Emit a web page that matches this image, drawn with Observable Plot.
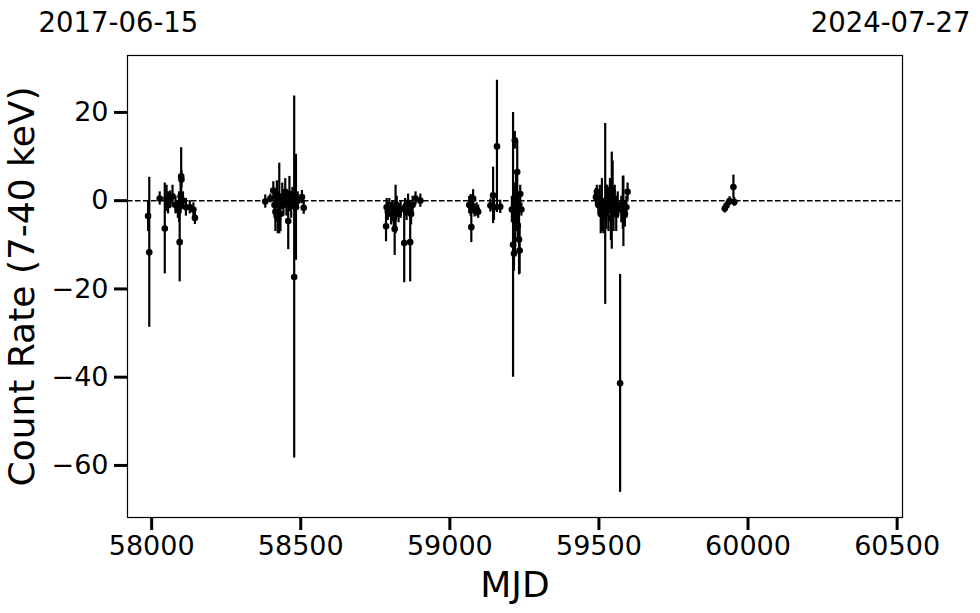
<!DOCTYPE html>
<html>
<head>
<meta charset="utf-8">
<script src="https://cdn.jsdelivr.net/npm/d3@7"></script>
<script src="https://cdn.jsdelivr.net/npm/@observablehq/plot@0.6"></script>
<style>
  html, body { margin: 0; padding: 0; background: #fff; }
  #chart svg { display: block; }
</style>
</head>
<body>
<div id="chart"></div>
<script>
// Observation epochs (MJD), count rates (7-40 keV) and 1-sigma errors
const mjd = [
  57988, 57992, 58027, 58044, 58050, 58055, 58062, 58070, 58080, 58088, 58092, 58094, 58097, 58099, 58100, 58105, 58115, 58128, 58140, 58145,
  58381, 58398, 58408, 58412, 58415, 58420, 58423, 58428, 58432, 58438, 58442, 58448, 58452, 58458, 58462, 58468, 58472, 58478, 58484, 58490, 58504, 58510,
  58786, 58788, 58792, 58797, 58803, 58808, 58812, 58815, 58818, 58822, 58828, 58835, 58847, 58850, 58855, 58860, 58867, 58870, 58875, 58885, 58901,
  59065, 59070, 59072, 59078, 59083, 59090, 59095, 59136, 59145, 59148, 59158, 59169,
  59208, 59212, 59215, 59218, 59219, 59222, 59224, 59226, 59228, 59230, 59232, 59234, 59236, 59240,
  59490, 59493, 59498, 59503, 59506, 59510, 59515, 59521, 59525, 59528, 59532, 59537, 59540, 59543, 59546, 59549, 59553, 59558, 59563, 59571, 59575, 59580, 59582, 59587, 59592, 59596,
  59922, 59928, 59938, 59951, 59954
];
const rate = [
  -3.5, -11.7, 0.5, -6.3, 0.5, -0.5, 0.2, 1.0, -1.0, -2.0, -1.5, -9.4, 1.0, 5.5, 4.8, 0.0, -1.5, -1.5, -2.0, -3.9,
  -0.2, 0.5, 2.3, -1.0, -2.5, 1.5, -4.0, 0.5, -3.0, 1.0, -1.0, 2.0, -0.5, -4.6, 1.5, -1.0, 0.5, -17.3, -1.5, 0.0, 0.8, -1.6,
  -5.8, -1.5, -2.5, -1.0, -3.0, -2.0, -4.0, -6.4, -2.0, -1.0, -3.0, -2.0, -9.6, -1.5, -2.5, -0.5, -9.4, -3.0, -1.0, 0.5, 0.0,
  -1.0, -1.1, -6.0, 0.5, -2.2, -2.0, -2.5, -1.1, 1.2, -1.5, 12.3, -1.4,
  -2.0, -10.0, -12.0, 13.7, -4.0, 0.5, -3.0, 6.5, -5.6, -1.0, -8.8, -11.3, 1.5, -2.0,
  0.8, 2.0, -1.0, 0.5, -3.0, -1.0, -3.5, -3.0, -1.5, 0.5, -2.0, 1.0, -4.0, 0.0, 2.0, -2.0, 0.5, -3.0, -1.0, -41.4, -2.0, -0.5, -2.4, -3.0, -1.5, 2.0,
  -1.8, -1.1, -0.1, 3.1, -0.3
];
const err = [
  3.5, 17.0, 1.5, 10.3, 3.0, 2.5, 2.0, 2.5, 2.0, 2.0, 3.5, 9.0, 4.0, 6.5, 2.0, 2.0, 2.0, 1.5, 1.5, 1.5,
  1.5, 1.0, 2.0, 3.0, 4.5, 3.0, 3.5, 8.0, 4.0, 3.0, 2.5, 3.0, 3.0, 6.5, 4.0, 3.0, 2.5, 41.0, 12.0, 2.0, 1.5, 1.5,
  3.5, 2.0, 2.0, 1.5, 2.5, 2.0, 2.5, 6.0, 5.5, 2.0, 2.0, 2.0, 9.0, 2.0, 2.0, 2.0, 9.0, 2.5, 2.0, 1.5, 1.5,
  2.0, 2.5, 3.5, 2.0, 1.5, 1.5, 1.5, 1.5, 6.4, 3.0, 15.0, 1.5,
  3.0, 30.0, 4.0, 2.0, 8.0, 6.0, 4.0, 7.0, 3.0, 3.0, 8.0, 5.3, 2.0, 1.5,
  2.0, 1.5, 2.0, 3.0, 4.5, 6.0, 4.0, 20.5, 5.0, 3.0, 5.0, 4.0, 5.0, 11.0, 7.0, 5.0, 3.0, 4.0, 3.0, 24.7, 3.0, 6.0, 8.0, 3.0, 2.5, 2.0,
  1.0, 1.0, 1.0, 2.7, 1.0
];
const xTicks = [58000, 58500, 59000, 59500, 60000, 60500];
const yTicks = [-60, -40, -20, 0, 20];
const xDomain = [57919, 60518];
const yDomain = [-71.8, 32.9];
const startLabel = "2017-06-15";
const endLabel = "2024-07-27";
const xLabel = "MJD";
const yLabel = "Count Rate (7-40 keV)";

const data = mjd.map((m, i) => ({mjd: m, rate: rate[i], err: err[i]}));
const fmt = d => d < 0 ? "\u2212" + Math.abs(d) : String(d);
const FONT = "DejaVu Sans, Liberation Sans, sans-serif";

const chart = Plot.plot({
  width: 980,
  height: 613,
  marginLeft: 127,
  marginRight: 78,
  marginTop: 55,
  marginBottom: 96,
  style: {fontFamily: FONT, color: "#000", background: "#fff", overflow: "visible"},
  x: {domain: xDomain, ticks: xTicks, tickFormat: fmt},
  y: {domain: yDomain, ticks: yTicks, tickFormat: fmt},
  marks: [
    Plot.ruleY([0], {stroke: "#000", strokeWidth: 1.5, strokeDasharray: "5.5,2.5"}),
    Plot.ruleX(data, {x: "mjd", y1: d => d.rate - d.err, y2: d => d.rate + d.err, stroke: "#000", strokeWidth: 2.2}),
    Plot.dot(data, {x: "mjd", y: "rate", r: 3.3, fill: "#000", stroke: null}),
    Plot.frame({stroke: "#000", strokeWidth: 1.2}),
    Plot.axisX({ticks: xTicks, tickFormat: fmt, tickSize: 13, tickPadding: 5, fontSize: 27, label: null, strokeWidth: 3, stroke: "#000", fill: "#000"}),
    Plot.axisY({ticks: yTicks, tickFormat: fmt, tickSize: 13, tickPadding: 6, fontSize: 27, label: null, strokeWidth: 3, stroke: "#000", fill: "#000"}),
    Plot.text([xLabel], {frameAnchor: "bottom", text: d => d, dy: 68, fontSize: 36, lineAnchor: "middle", fill: "#000"}),
    Plot.text([yLabel], {frameAnchor: "left", text: d => d, dx: -105, rotate: -90, fontSize: 36, textAnchor: "middle", lineAnchor: "middle", fill: "#000"}),
    Plot.text([startLabel], {frameAnchor: "top-left", text: d => d, dx: -89, dy: -32, fontSize: 27.5, textAnchor: "start", lineAnchor: "middle", fill: "#000"}),
    Plot.text([endLabel], {frameAnchor: "top-right", text: d => d, dx: 68, dy: -32, fontSize: 27.5, textAnchor: "end", lineAnchor: "middle", fill: "#000"})
  ]
});
document.getElementById("chart").appendChild(chart);
</script>
</body>
</html>
